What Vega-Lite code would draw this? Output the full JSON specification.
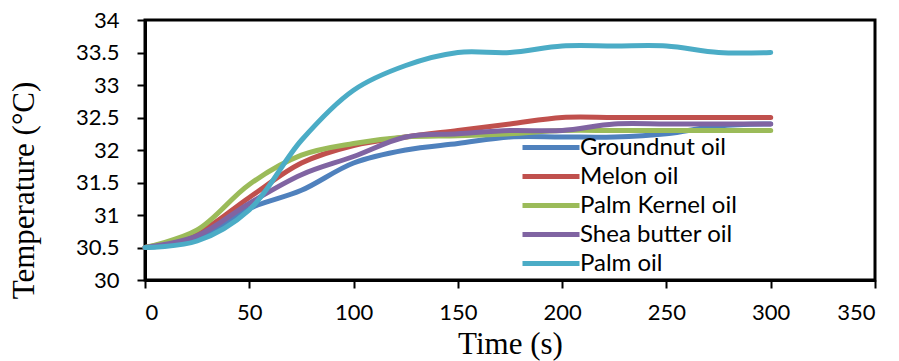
{
  "$schema": "https://vega.github.io/schema/vega-lite/v6.json",
  "width": 730,
  "height": 260,
  "autosize": {"type": "none"},
  "padding": {"left": 145, "top": 20, "right": 24, "bottom": 81},
  "background": "white",
  "config": {
    "view": {"stroke": "black", "strokeWidth": 3},
    "font": "Lato"
  },
  "data": {
    "values": [
      {"t": 0, "oil": "Groundnut oil", "T": 30.5},
      {"t": 25, "oil": "Groundnut oil", "T": 30.63},
      {"t": 50, "oil": "Groundnut oil", "T": 31.1},
      {"t": 75, "oil": "Groundnut oil", "T": 31.38},
      {"t": 100, "oil": "Groundnut oil", "T": 31.8},
      {"t": 125, "oil": "Groundnut oil", "T": 32.0},
      {"t": 150, "oil": "Groundnut oil", "T": 32.1},
      {"t": 175, "oil": "Groundnut oil", "T": 32.2},
      {"t": 200, "oil": "Groundnut oil", "T": 32.2},
      {"t": 225, "oil": "Groundnut oil", "T": 32.2},
      {"t": 250, "oil": "Groundnut oil", "T": 32.25},
      {"t": 275, "oil": "Groundnut oil", "T": 32.37},
      {"t": 300, "oil": "Groundnut oil", "T": 32.4},
      {"t": 0, "oil": "Melon oil", "T": 30.5},
      {"t": 25, "oil": "Melon oil", "T": 30.72},
      {"t": 50, "oil": "Melon oil", "T": 31.27},
      {"t": 75, "oil": "Melon oil", "T": 31.8},
      {"t": 100, "oil": "Melon oil", "T": 32.07},
      {"t": 125, "oil": "Melon oil", "T": 32.2},
      {"t": 150, "oil": "Melon oil", "T": 32.3},
      {"t": 175, "oil": "Melon oil", "T": 32.4},
      {"t": 200, "oil": "Melon oil", "T": 32.5},
      {"t": 225, "oil": "Melon oil", "T": 32.5},
      {"t": 250, "oil": "Melon oil", "T": 32.5},
      {"t": 275, "oil": "Melon oil", "T": 32.5},
      {"t": 300, "oil": "Melon oil", "T": 32.5},
      {"t": 0, "oil": "Palm Kernel oil", "T": 30.5},
      {"t": 25, "oil": "Palm Kernel oil", "T": 30.77},
      {"t": 50, "oil": "Palm Kernel oil", "T": 31.47},
      {"t": 75, "oil": "Palm Kernel oil", "T": 31.92},
      {"t": 100, "oil": "Palm Kernel oil", "T": 32.1},
      {"t": 125, "oil": "Palm Kernel oil", "T": 32.2},
      {"t": 150, "oil": "Palm Kernel oil", "T": 32.22},
      {"t": 175, "oil": "Palm Kernel oil", "T": 32.25},
      {"t": 200, "oil": "Palm Kernel oil", "T": 32.3},
      {"t": 225, "oil": "Palm Kernel oil", "T": 32.3},
      {"t": 250, "oil": "Palm Kernel oil", "T": 32.3},
      {"t": 275, "oil": "Palm Kernel oil", "T": 32.3},
      {"t": 300, "oil": "Palm Kernel oil", "T": 32.3},
      {"t": 0, "oil": "Shea butter oil", "T": 30.5},
      {"t": 25, "oil": "Shea butter oil", "T": 30.68},
      {"t": 50, "oil": "Shea butter oil", "T": 31.18},
      {"t": 75, "oil": "Shea butter oil", "T": 31.62},
      {"t": 100, "oil": "Shea butter oil", "T": 31.9},
      {"t": 125, "oil": "Shea butter oil", "T": 32.2},
      {"t": 150, "oil": "Shea butter oil", "T": 32.25},
      {"t": 175, "oil": "Shea butter oil", "T": 32.3},
      {"t": 200, "oil": "Shea butter oil", "T": 32.3},
      {"t": 225, "oil": "Shea butter oil", "T": 32.4},
      {"t": 250, "oil": "Shea butter oil", "T": 32.4},
      {"t": 275, "oil": "Shea butter oil", "T": 32.4},
      {"t": 300, "oil": "Shea butter oil", "T": 32.4},
      {"t": 0, "oil": "Palm oil", "T": 30.5},
      {"t": 25, "oil": "Palm oil", "T": 30.6},
      {"t": 50, "oil": "Palm oil", "T": 31.08},
      {"t": 75, "oil": "Palm oil", "T": 32.15},
      {"t": 100, "oil": "Palm oil", "T": 32.92},
      {"t": 125, "oil": "Palm oil", "T": 33.3},
      {"t": 150, "oil": "Palm oil", "T": 33.5},
      {"t": 175, "oil": "Palm oil", "T": 33.5},
      {"t": 200, "oil": "Palm oil", "T": 33.6},
      {"t": 225, "oil": "Palm oil", "T": 33.6},
      {"t": 250, "oil": "Palm oil", "T": 33.6},
      {"t": 275, "oil": "Palm oil", "T": 33.5},
      {"t": 300, "oil": "Palm oil", "T": 33.5}
    ]
  },
  "mark": {"type": "line", "interpolate": "catmull-rom", "strokeWidth": 5, "strokeCap": "round"},
  "encoding": {
    "x": {
      "field": "t", "type": "quantitative",
      "scale": {"domain": [0, 350], "nice": false},
      "axis": {
        "title": "Time (s)", "values": [0, 50, 100, 150, 200, 250, 300, 350],
        "grid": false, "domainColor": "black", "domainWidth": 3,
        "tickColor": "black", "tickWidth": 2, "tickSize": 8,
        "labelFont": "Lato", "labelFontSize": 22, "labelColor": "black", "labelPadding": 14,
        "titleFont": "Liberation Serif", "titleFontSize": 31, "titleFontWeight": "normal",
        "titleColor": "black", "titleBaseline": "alphabetic", "titleY": 73
      }
    },
    "y": {
      "field": "T", "type": "quantitative",
      "scale": {"domain": [30, 34], "nice": false, "zero": false},
      "axis": {
        "title": "Temperature (°C)", "values": [30, 30.5, 31, 31.5, 32, 32.5, 33, 33.5, 34],
        "format": "~g",
        "grid": false, "domainColor": "black", "domainWidth": 3,
        "tickColor": "black", "tickWidth": 2, "tickSize": 8,
        "labelFont": "Lato", "labelFontSize": 22, "labelColor": "black", "labelPadding": 18,
        "titleFont": "Liberation Serif", "titleFontSize": 31, "titleFontWeight": "normal",
        "titleColor": "black", "titleBaseline": "alphabetic", "titleAlign": "center",
        "titleX": -112, "titleY": 170, "titleAngle": -90
      }
    },
    "color": {
      "field": "oil", "type": "nominal",
      "scale": {
        "domain": ["Groundnut oil", "Melon oil", "Palm Kernel oil", "Shea butter oil", "Palm oil"],
        "range": ["#4F81BD", "#C0504D", "#9BBB59", "#8064A2", "#4BACC6"]
      },
      "legend": {
        "title": null, "orient": "none", "legendX": 375, "legendY": 113,
        "symbolType": "stroke", "symbolSize": 3249, "symbolStrokeWidth": 5,
        "clipHeight": 29, "rowPadding": 0, "labelOffset": -2,
        "labelFont": "Lato", "labelFontSize": 24, "labelColor": "black",
        "labelLimit": 300
      }
    }
  }
}
